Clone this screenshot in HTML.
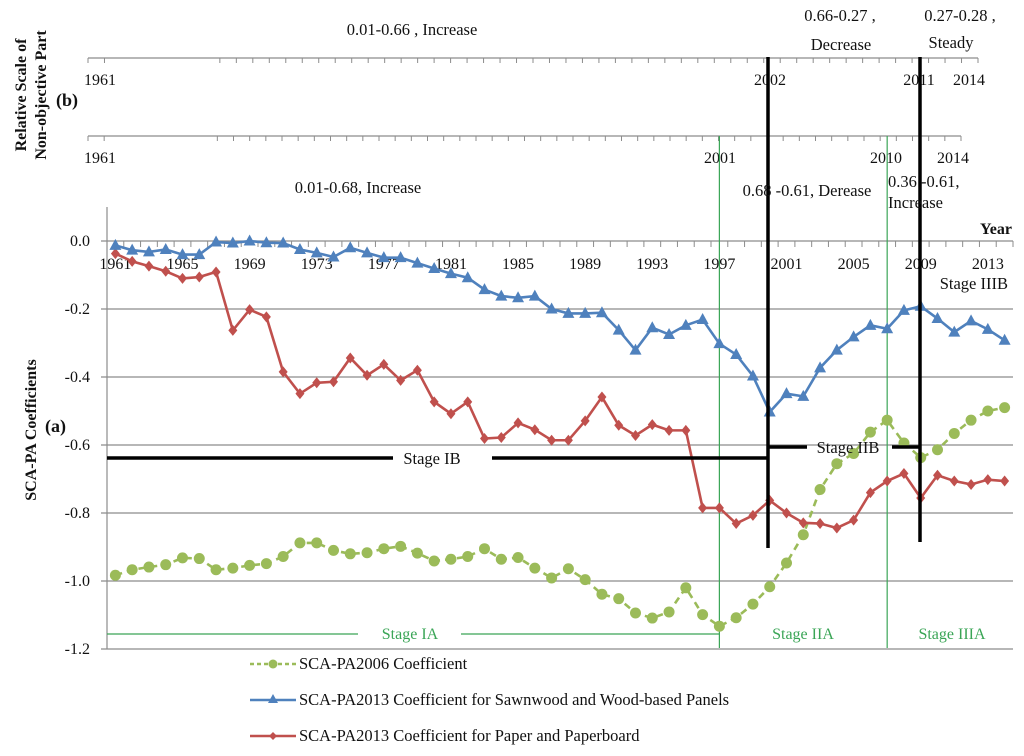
<!DOCTYPE html>
<html><head><meta charset="utf-8"><style>
body{margin:0;background:#fff}
svg text{font-family:"Liberation Serif",serif;fill:#111}
</style></head><body>
<svg id="c" width="1024" height="751" viewBox="0 0 1024 751" xmlns="http://www.w3.org/2000/svg"></svg>
<script>
const years=[];for(let y=1961;y<=2014;y++)years.push(y);
const blueVals=[-0.013,-0.027,-0.032,-0.025,-0.04,-0.04,-0.003,-0.006,0,-0.005,-0.006,-0.025,-0.035,-0.047,-0.02,-0.035,-0.049,-0.049,-0.065,-0.081,-0.096,-0.108,-0.143,-0.162,-0.167,-0.162,-0.2,-0.213,-0.213,-0.211,-0.262,-0.321,-0.255,-0.275,-0.248,-0.231,-0.302,-0.334,-0.397,-0.503,-0.449,-0.457,-0.373,-0.321,-0.282,-0.248,-0.258,-0.204,-0.192,-0.228,-0.268,-0.235,-0.26,-0.292];
const redVals=[-0.037,-0.06,-0.074,-0.089,-0.11,-0.106,-0.091,-0.263,-0.202,-0.223,-0.385,-0.449,-0.417,-0.414,-0.344,-0.395,-0.363,-0.41,-0.38,-0.473,-0.508,-0.473,-0.581,-0.578,-0.535,-0.555,-0.586,-0.586,-0.529,-0.459,-0.542,-0.572,-0.54,-0.557,-0.557,-0.785,-0.785,-0.831,-0.807,-0.763,-0.8,-0.829,-0.831,-0.844,-0.821,-0.74,-0.706,-0.684,-0.756,-0.689,-0.706,-0.716,-0.702,-0.706];
const greenVals=[-0.983,-0.967,-0.959,-0.952,-0.932,-0.934,-0.967,-0.962,-0.954,-0.949,-0.928,-0.888,-0.888,-0.91,-0.92,-0.917,-0.905,-0.898,-0.918,-0.941,-0.936,-0.928,-0.905,-0.936,-0.931,-0.962,-0.991,-0.964,-0.996,-1.039,-1.052,-1.094,-1.109,-1.091,-1.02,-1.099,-1.133,-1.108,-1.068,-1.017,-0.947,-0.864,-0.731,-0.655,-0.625,-0.562,-0.527,-0.594,-0.637,-0.614,-0.566,-0.527,-0.5,-0.49];
const yTicks=[0,-0.2,-0.4,-0.6,-0.8,-1.0,-1.2];
const xLabelYears=[1961,1965,1969,1973,1977,1981,1985,1989,1993,1997,2001,2005,2009,2013];

const NS="http://www.w3.org/2000/svg",svg=document.getElementById('c');
const X0=107,X1=1013,step=(X1-X0)/years.length;
function xs(y){return X0+(years.indexOf(y)+0.5)*step;}
function ys(v){return 241-v/0.2*68;}
function el(t,a,p){const e=document.createElementNS(NS,t);for(const k in a)e.setAttribute(k,a[k]);(p||svg).appendChild(e);return e;}
function tx(x,y,s,o,p){const e=el('text',Object.assign({x:x,y:y,'font-size':16},o||{}),p);e.textContent=s;return e;}

yTicks.forEach(v=>{
 const g=el('line',{x1:X0-6,x2:X1,y1:ys(v),y2:ys(v),stroke:'#8c8c8c','stroke-width':1.2});
 
 
 const t=tx(90,ys(v)+5,v.toFixed(1),{'text-anchor':'end','font-size':16});
 
 
});
el('line',{x1:X0,x2:X0,y1:207,y2:649,stroke:'#8c8c8c','stroke-width':1.2});
for(let i=0;i<=years.length;i++)el('line',{x1:X0+i*step,x2:X0+i*step,y1:241,y2:247,stroke:'#8c8c8c'});
xLabelYears.forEach(y=>{const t=tx(xs(y),269,String(y),{'text-anchor':'middle','font-size':16});
 
 });
const yr=tx(1012,234,'Year',{'text-anchor':'end','font-weight':'bold','font-size':16});



function topAxis(y,x1,labels){
 el('line',{x1:88,x2:x1,y1:y,y2:y,stroke:'#8c8c8c','stroke-width':1.2});
 const s=(x1-88)/54;
 for(let i=0;i<=54;i++){const xx=88+i*s;if(xx>120&&xx<208)continue;el('line',{x1:xx,x2:xx,y1:y,y2:y+5,stroke:'#8c8c8c'});}
 labels.forEach(l=>tx(l[1],y+27,l[0],{'text-anchor':'middle','font-size':16}));
}
topAxis(58,978,[['1961',100],['2002',770],['2011',919],['2014',969]]);
topAxis(136,961,[['1961',100],['2001',720],['2010',886],['2014',953]]);

el('line',{x1:xs(1997),x2:xs(1997),y1:136,y2:648,stroke:'#3aa556','stroke-width':1.2});
el('line',{x1:xs(2007),x2:xs(2007),y1:136,y2:648,stroke:'#3aa556','stroke-width':1.2});
el('line',{x1:107,x2:358,y1:634,y2:634,stroke:'#3aa556','stroke-width':1.2});
el('line',{x1:461,x2:xs(1997),y1:634,y2:634,stroke:'#3aa556','stroke-width':1.2});
[['Stage IA',410],['Stage IIA',803],['Stage IIIA',952]].forEach(a=>{const t=tx(a[1],639,a[0],{'text-anchor':'middle','font-size':16});t.style.fill='#3aa556';
 
 });

function series(vals,color,marker,dash,name){
 const g=el('g',{});
 
 
 el('polyline',{points:vals.map((v,i)=>xs(years[i])+','+ys(v)).join(' '),fill:'none',stroke:color,'stroke-width':2.6,'stroke-dasharray':dash||''},g);
 vals.forEach((v,i)=>{const x=xs(years[i]),y=ys(v);let m;
  if(marker==='c')m=el('circle',{cx:x,cy:y,r:5.5,fill:color},g);
  else if(marker==='t')m=el('polygon',{points:`${x},${y-6.5} ${x-6},${y+4.5} ${x+6},${y+4.5}`,fill:color},g);
  else m=el('polygon',{points:`${x},${y-5.5} ${x+4.5},${y} ${x},${y+5.5} ${x-4.5},${y}`,fill:color},g);
  
  });
}
series(greenVals,'#9bbb59','c','7,5','series-sca-pa2006');
series(redVals,'#c0504d','d','','series-paper');
series(blueVals,'#4f81bd','t','','series-sawnwood');

const B={stroke:'#000','stroke-width':3.5};
el('line',Object.assign({x1:768,x2:768,y1:57,y2:548},B));
el('line',Object.assign({x1:920,x2:920,y1:57,y2:542},B));
el('line',Object.assign({x1:107,x2:393,y1:458,y2:458},B));
el('line',Object.assign({x1:492,x2:768,y1:458,y2:458},B));
el('line',Object.assign({x1:768,x2:807,y1:447,y2:447},B));
el('line',Object.assign({x1:892,x2:920,y1:447,y2:447},B));
tx(432,464,'Stage IB',{'text-anchor':'middle','font-size':16.5});
tx(848,453,'Stage IIB',{'text-anchor':'middle','font-size':16.5});
tx(1008,289,'Stage IIIB',{'text-anchor':'end','font-size':16.5});

tx(412,35,'0.01-0.66 , Increase',{'text-anchor':'middle','font-size':16.5});
tx(840,21,'0.66-0.27 ,',{'text-anchor':'middle','font-size':16.5});
tx(841,50,'Decrease',{'text-anchor':'middle','font-size':16.5});
tx(960,21,'0.27-0.28 ,',{'text-anchor':'middle','font-size':16.5});
tx(951,48,'Steady',{'text-anchor':'middle','font-size':16.5});
tx(358,193,'0.01-0.68, Increase',{'text-anchor':'middle','font-size':16.5});
tx(807,196,'0.68 -0.61, Derease',{'text-anchor':'middle','font-size':16.5});
tx(888,187,'0.36 -0.61,',{'font-size':16.5});
tx(888,208,'Increase',{'font-size':16.5});
tx(56,106,'(b)',{'font-weight':'bold','font-size':18});
tx(45,432,'(a)',{'font-weight':'bold','font-size':18});
tx(0,0,'Relative  Scale of',{'font-weight':'bold','font-size':16,'text-anchor':'middle',transform:'translate(26,95) rotate(-90)'});
tx(0,0,'Non-objective  Part',{'font-weight':'bold','font-size':16,'text-anchor':'middle',transform:'translate(46,95) rotate(-90)'});
const yt=tx(0,0,'SCA-PA Coefficients',{'font-weight':'bold','font-size':16,'text-anchor':'middle',transform:'translate(36,430) rotate(-90)'});



const leg=[['SCA-PA2006 Coefficient','#9bbb59','c','4,3'],['SCA-PA2013 Coefficient for Sawnwood and Wood-based Panels','#4f81bd','t',''],['SCA-PA2013 Coefficient for Paper and Paperboard','#c0504d','d','']];
leg.forEach((l,i)=>{const y=664+i*36;const g=el('g',{});
 
 
 el('line',{x1:250,x2:296,y1:y,y2:y,stroke:l[1],'stroke-width':2.5,'stroke-dasharray':l[3]},g);
 if(l[2]==='c')el('circle',{cx:273,cy:y,r:4.5,fill:l[1]},g);
 else if(l[2]==='t')el('polygon',{points:`273,${y-6} 268,${y+3} 278,${y+3}`,fill:l[1]},g);
 else el('polygon',{points:`273,${y-4} 277,${y} 273,${y+4} 269,${y}`,fill:l[1]},g);
 tx(299,y+5,l[0],{'font-size':16.5},g);});
</script>
</body></html>
